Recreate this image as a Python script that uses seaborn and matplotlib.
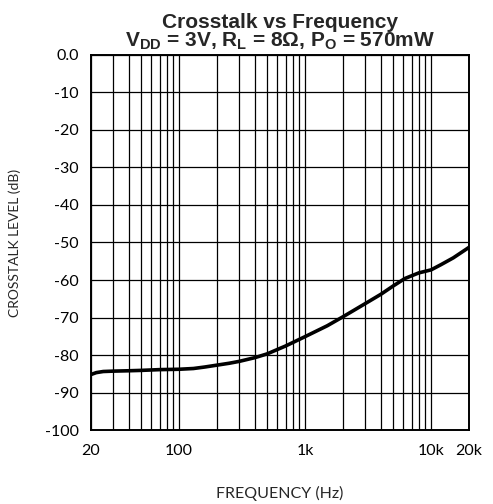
import numpy as np
import pandas as pd
import matplotlib
matplotlib.use("Agg")
import matplotlib.pyplot as plt
import seaborn as sns
from matplotlib.ticker import FixedLocator, LogLocator, NullFormatter

# === data ===
freq_hz = [20, 22, 25, 30, 40, 50, 70, 100, 130, 160, 200, 250, 300, 400, 500,
           700, 1000, 1500, 2000, 3000, 4000, 5000, 6200, 8000, 10000, 12000,
           15000, 20000]
crosstalk_db = [-85.2, -84.7, -84.4, -84.3, -84.2, -84.1, -83.9, -83.8, -83.6,
                -83.2, -82.7, -82.2, -81.7, -80.7, -79.7, -77.6, -75.1, -72.2,
                -69.8, -66.3, -63.8, -61.6, -59.6, -58.1, -57.3, -55.9,
                -54.1, -51.3]
x_ticks = [20, 100, 1000, 10000, 20000]
x_labels = ["20", "100", "1k", "10k", "20k"]
y_ticks = list(range(-100, 1, 10))
y_labels = ["-100", "-90", "-80", "-70", "-60", "-50", "-40", "-30", "-20", "-10", "0.0"]

df = pd.DataFrame({"freq": freq_hz, "db": crosstalk_db})

sns.set_style("white")
plt.rcParams['font.family'] = ['Lato', 'DejaVu Sans']
plt.rcParams['mathtext.fontset'] = 'custom'
plt.rcParams['mathtext.rm'] = 'Liberation Sans'
plt.rcParams['mathtext.bf'] = 'Liberation Sans:bold'

fig = plt.figure(figsize=(4.93, 5.04), dpi=100)
ax = fig.add_axes([0.1846, 0.1468, 0.7667, 0.7441])

sns.lineplot(data=df, x="freq", y="db", ax=ax, color="black", linewidth=2.6)

ax.set_xscale("log")
ax.set_xlim(20, 20000)
ax.set_ylim(-100, 0)

# grid
ax.xaxis.set_minor_locator(LogLocator(base=10, subs=np.arange(2, 10)))
ax.xaxis.set_minor_formatter(NullFormatter())
ax.xaxis.set_major_locator(FixedLocator(x_ticks))
ax.set_xticklabels(x_labels)
ax.set_yticks(y_ticks)
ax.set_yticklabels(y_labels)
ax.grid(True, which="both", axis="x", color="black", linewidth=0.9)
ax.grid(True, which="major", axis="y", color="black", linewidth=0.9)
ax.tick_params(which="both", length=0, labelsize=11.5, colors="black")
ax.tick_params(axis="y", pad=9)
ax.tick_params(axis="x", pad=10)

for s in ax.spines.values():
    s.set_color("black")
    s.set_linewidth(1.4)

ax.set_xlabel("FREQUENCY (Hz)", fontsize=11.5, labelpad=20)
ax.set_ylabel("CROSSTALK LEVEL (dB)", fontsize=10, labelpad=17)

ax.set_title("Crosstalk vs Frequency\n"
             r"$\mathbf{V_{DD}}$ = 3V, $\mathbf{R_{L}}$ = 8Ω, $\mathbf{P_{O}}$ = 570mW",
             fontsize=15, fontweight="bold", family="Liberation Sans",
             linespacing=0.92, pad=6)

fig.savefig("out.png", dpi=100)
